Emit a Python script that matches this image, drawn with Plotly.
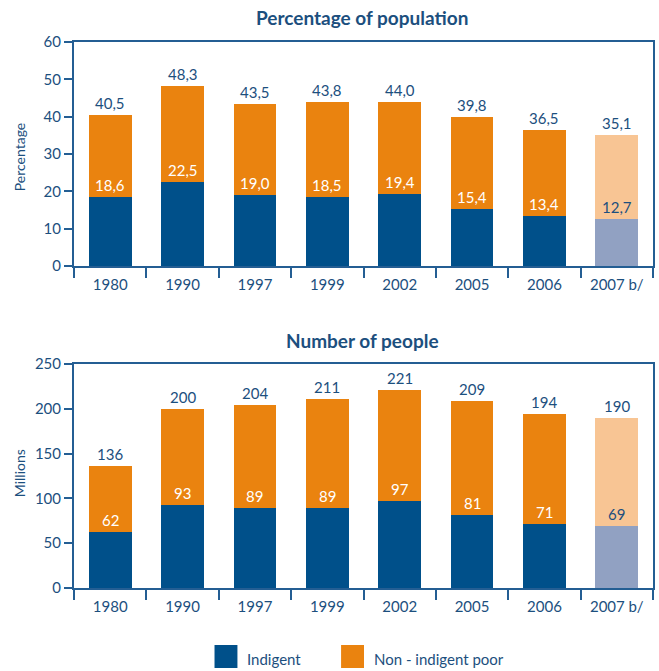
import plotly.graph_objects as go
from plotly.subplots import make_subplots

years = ["1980", "1990", "1997", "1999", "2002", "2005", "2006", "2007 b/"]
pct_indigent = [18.6, 22.5, 19.0, 18.5, 19.4, 15.4, 13.4, 12.7]
pct_total = [40.5, 48.3, 43.5, 43.8, 44.0, 39.8, 36.5, 35.1]
mil_indigent = [62, 93, 89, 89, 97, 81, 71, 69]
mil_total = [136, 200, 204, 211, 221, 209, 194, 190]

BLUE = "#00508a"
ORANGE = "#ea830f"
LBLUE = "#91a1c2"
LORANGE = "#f8c594"
TXT = "#1c4f7e"
AX = "#245e93"
FONT = "Lato"

pct_non = [round(t - i, 1) for t, i in zip(pct_total, pct_indigent)]
mil_non = [t - i for t, i in zip(mil_total, mil_indigent)]

blue_cols = [BLUE] * 7 + [LBLUE]
orange_cols = [ORANGE] * 7 + [LORANGE]

fig = make_subplots(rows=2, cols=1, vertical_spacing=0.18)

for row, ind, non in [(1, pct_indigent, pct_non), (2, mil_indigent, mil_non)]:
    fig.add_trace(go.Bar(x=years, y=ind, marker=dict(color=blue_cols, line_width=0),
                         name="Indigent", showlegend=False, hoverinfo="y"), row=row, col=1)
    fig.add_trace(go.Bar(x=years, y=non, marker=dict(color=orange_cols, line_width=0),
                         name="Non - indigent poor", showlegend=False, hoverinfo="y"), row=row, col=1)

def fmt(v, dec):
    return (f"{v:.1f}".replace(".", ",")) if dec else f"{v:d}"

annots = []
for xref, yref, ind, tot, dec in [("x", "y", pct_indigent, pct_total, True),
                                   ("x2", "y2", mil_indigent, mil_total, False)]:
    for k, yr in enumerate(years):
        annots.append(dict(x=k, y=tot[k], xref=xref, yref=yref, text=fmt(tot[k], dec),
                           showarrow=False, yanchor="bottom", yshift=1,
                           font=dict(family=FONT, size=15, color=TXT)))
        annots.append(dict(x=k, y=ind[k], xref=xref, yref=yref, text=fmt(ind[k], dec),
                           showarrow=False, yanchor="bottom", yshift=1,
                           font=dict(family=FONT, size=15, color=TXT if k == 7 else "white")))

W, H = 659, 671
L, R, T, B = 74, 4, 42, 83
pw = W - L - R
ph = H - T - B

def px_x(px):
    return (px - L) / pw

def px_y(py):
    return (H - B - py) / ph

def note(x, y, text, size, **kw):
    d = dict(x=px_x(x), y=px_y(y), xref="paper", yref="paper", text=text, showarrow=False,
             xanchor="center", yanchor="middle", font=dict(family=FONT, size=size, color=TXT))
    d.update(kw)
    annots.append(d)

note(363, 18, "<b>Percentage of population</b>", 19)
note(363, 340, "<b>Number of people</b>", 19)
note(19, 157, "Percentage", 14, textangle=-90)
note(19, 473, "Millions", 14, textangle=-90)
note(246, 659, "Indigent", 15, xanchor="left")
note(373, 659, "Non - indigent poor", 15, xanchor="left")

shapes = [
    dict(type="rect", xref="paper", yref="paper", x0=px_x(215), x1=px_x(238), y0=px_y(668), y1=px_y(645),
         fillcolor=BLUE, line_width=0),
    dict(type="rect", xref="paper", yref="paper", x0=px_x(342), x1=px_x(365), y0=px_y(668), y1=px_y(645),
         fillcolor=ORANGE, line_width=0),
]

axis_common = dict(showline=True, linecolor=AX, linewidth=2, mirror=True, showgrid=False, zeroline=False,
                   ticks="outside", tickcolor=AX, tickwidth=1.5,
                   tickfont=dict(family=FONT, size=15, color=TXT))

fig.update_layout(
    width=W, height=H, margin=dict(l=L, r=R, t=T, b=B),
    plot_bgcolor="white", paper_bgcolor="white",
    barmode="stack", bargap=0.41, showlegend=False,
    annotations=annots, shapes=shapes,
    xaxis=dict(axis_common, domain=[0, 1], tickson="boundaries", ticklen=10, type="category",
               ticklabelstandoff=4),
    xaxis2=dict(axis_common, domain=[0, 1], tickson="boundaries", ticklen=10, type="category",
                ticklabelstandoff=4),
    yaxis=dict(axis_common, domain=[px_y(266), px_y(42)], range=[0, 60], dtick=10, ticklen=8),
    yaxis2=dict(axis_common, domain=[px_y(588), px_y(364)], range=[0, 250], dtick=50, ticklen=8),
)

fig.write_html("out.html", config={"displayModeBar": False},
               post_script="document.body.style.margin='0';")
